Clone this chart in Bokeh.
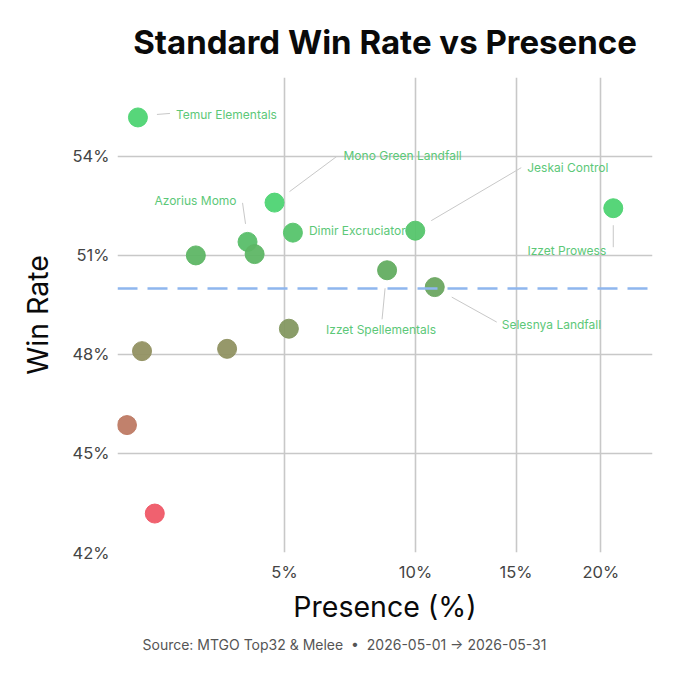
import numpy as np
from bokeh.plotting import figure
from bokeh.models import (ColumnDataSource, Range1d, FixedTicker, CustomJSTickFormatter,
                          Span, Title, LinearColorMapper)
from bokeh.transform import transform
from bokeh.core.properties import value
from bokeh.embed import file_html
from bokeh.resources import INLINE

# --- data ---
archetypes = ["Temur Elementals", "Mono Green Landfall", "Dimir Excruciator", "Azorius Momo",
              "", "", "Izzet Spellementals", "Jeskai Control", "Izzet Prowess",
              "Selesnya Landfall", "", "", "", "", ""]
presence = [1.44, 4.69, 5.27, 3.90, 4.10, 2.59, 8.77, 9.99, 20.8, 10.88, 5.14, 1.51, 3.35, 1.26, 1.74]
win_rate = [55.18, 52.60, 51.69, 51.41, 51.04, 51.00, 50.55, 51.75, 52.43, 50.04, 48.78, 48.10,
            48.17, 45.86, 43.18]
average_win_rate = 50.0
x_tick_pct = [5, 10, 15, 20]
y_tick_pct = [42, 45, 48, 51, 54]

# --- label placement, pixels relative to the point (y down): text dx, dy, align, leader start, leader end
label_layout = {
    "Temur Elementals":    (38, -3, "left",   (19, -3), (32, -4)),
    "Mono Green Landfall": (69, -47, "left",  (15, -11), (62, -46)),
    "Azorius Momo":        (-11, -41, "right", (-5, -39), (-2, -18)),
    "Dimir Excruciator":   (16, -2, "left",   None, None),
    "Jeskai Control":      (112, -63, "left", (16, -10), (106, -63)),
    "Izzet Prowess":       (-7, 42, "right",  (0, 17), (0, 39)),
    "Selesnya Landfall":   (67, 37, "left",   (17, 10), (62, 35)),
    "Izzet Spellementals": (-6, 59, "center", (-2, 18), (-5, 49)),
}

W, H = 660, 660
BL, BR, BT, BB = 117, 8, 77, 108
x_lo, x_hi = 1.0555, 4.838      # sqrt(presence) units
y_lo, y_hi = 42.0, 56.39
kx = (x_hi - x_lo) / (W - BL - BR)
ky = (y_hi - y_lo) / (H - BT - BB)

sx = np.sqrt(np.array(presence))
src = ColumnDataSource(dict(x=sx, y=win_rate, name=archetypes, presence=presence))

# red -> olive -> green palette along win rate
c_low, c_high = 43.0, 53.0
stops = [43.0, 46.0, 48.5, 50.5, 52.5, 53.0]
reds = [242, 188, 138, 100, 78, 78]
greens = [88, 124, 150, 172, 212, 212]
blues = [104, 100, 98, 97, 115, 115]
t = np.linspace(c_low, c_high, 256)
palette = ["#%02x%02x%02x" % (int(np.interp(v, stops, reds)), int(np.interp(v, stops, greens)),
                              int(np.interp(v, stops, blues))) for v in t]
cmap = LinearColorMapper(palette=palette, low=c_low, high=c_high)

p = figure(width=W, height=H, output_backend="svg", toolbar_location=None,
           x_range=Range1d(x_lo, x_hi), y_range=Range1d(y_lo, y_hi),
           min_border_left=BL, min_border_right=BR, min_border_top=BT, min_border_bottom=BB)
p.outline_line_color = None
p.background_fill_color = "white"
p.border_fill_color = "white"

p.title.text = "Standard Win Rate vs Presence"
p.title.text_font = "Inter"
p.title.text_font_style = "bold"
p.title.text_font_size = "33px"
p.title.text_color = "#0a0a0a"
p.title.align = "center"
p.title.standoff = 31

footer = Title(text="Source: MTGO Top32 & Melee \u00a0\u2022\u00a0 2026-05-01 \u2192 2026-05-31",
               align="left", offset=25, text_font="Inter", text_font_size="14px",
               text_font_style="normal", text_color="#555555", standoff=14)
p.add_layout(footer, "below")

xt = FixedTicker(ticks=list(np.sqrt(x_tick_pct)))
yt = FixedTicker(ticks=y_tick_pct)
p.xaxis.ticker = xt
p.yaxis.ticker = yt
p.xgrid.ticker = xt
p.ygrid.ticker = yt
p.xaxis.formatter = CustomJSTickFormatter(code="return Math.round(tick*tick) + '%';")
p.yaxis.formatter = CustomJSTickFormatter(code="return tick.toFixed(0) + '%';")
for ax in (p.xaxis, p.yaxis):
    ax.axis_line_color = None
    ax.major_tick_line_color = None
    ax.minor_tick_line_color = None
    ax.major_label_text_font = "Inter"
    ax.major_label_text_font_size = "16.5px"
    ax.major_label_text_color = "#444444"
    ax.axis_label_text_font = "Inter"
    ax.axis_label_text_font_size = "28.5px"
    ax.axis_label_text_font_style = "normal"
    ax.axis_label_text_color = "#0a0a0a"
p.xaxis.axis_label = "Presence (%)"
p.yaxis.axis_label = "Win Rate"
p.xaxis.major_label_standoff = 3
p.yaxis.major_label_standoff = 2
p.xaxis.axis_label_standoff = 4
p.yaxis.axis_label_standoff = 14
for g in (p.xgrid, p.ygrid):
    g.grid_line_color = "#c8c8c8"
    g.grid_line_width = 1.6

p.add_layout(Span(location=average_win_rate, dimension="width", line_color="#8fb6ee",
                  line_width=2.5, line_dash="20 10"))

# leader lines and label texts
lx0, ly0, lx1, ly1 = [], [], [], []
tx, ty, tdx, tdy, ttext, talign = [], [], [], [], [], []
for name, xx, yy in zip(archetypes, sx, win_rate):
    if name not in label_layout:
        continue
    dx, dy, align, a, b = label_layout[name]
    tx.append(xx); ty.append(yy); tdx.append(dx); tdy.append(dy)
    ttext.append(name); talign.append(align)
    if a is not None:
        lx0.append(xx + a[0] * kx); ly0.append(yy - a[1] * ky)
        lx1.append(xx + b[0] * kx); ly1.append(yy - b[1] * ky)

p.segment(x0=lx0, y0=ly0, x1=lx1, y1=ly1, line_color="#c8c8c8", line_width=1)

p.scatter("x", "y", source=src, size=19, fill_color=transform("y", cmap),
          line_color=transform("y", cmap), fill_alpha=0.95, line_alpha=0.95)

lab = ColumnDataSource(dict(x=tx, y=ty, dx=tdx, dy=tdy, text=ttext, align=talign))
p.text("x", "y", text="text", source=lab, x_offset="dx", y_offset="dy", text_align="align",
       text_baseline="middle", text_font=value("Inter"), text_font_size="12px",
       text_color="#5cc878")

open("out.html", "w").write(file_html(p, INLINE))
